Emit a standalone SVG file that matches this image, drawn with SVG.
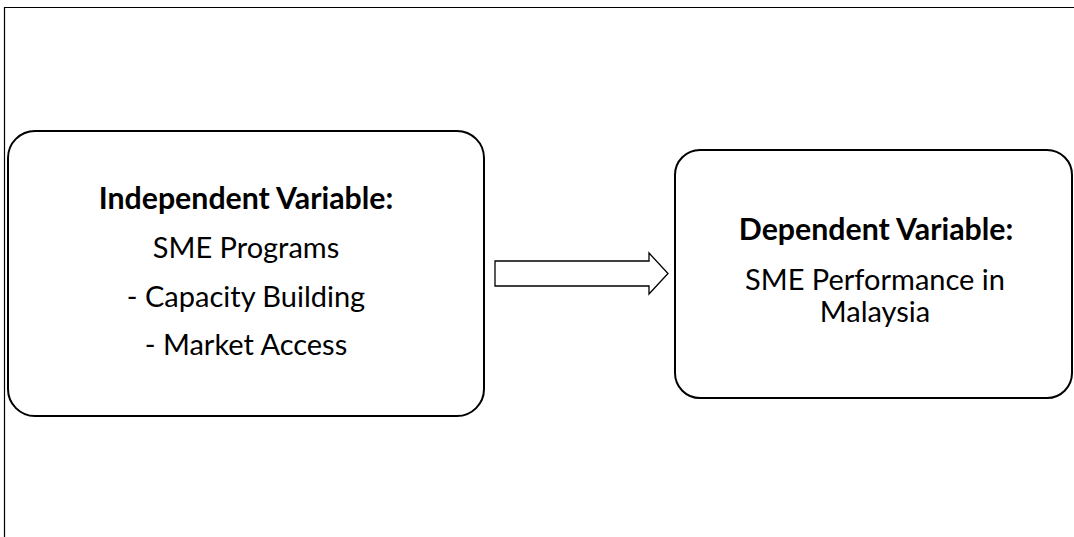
<svg xmlns="http://www.w3.org/2000/svg" width="1074" height="537" viewBox="0 0 1074 537">
<style>
.frame{fill:none;stroke:#000;stroke-width:1.2}
.box{fill:#fff;stroke:#000;stroke-width:2}
.t{font-family:Lato,"Liberation Sans",sans-serif;font-size:29px;fill:#000;text-anchor:middle}
.b{font-weight:bold;font-size:30.3px}
.arrow{fill:#fff;stroke:#000;stroke-width:1.3}
</style>
<rect width="1074" height="537" fill="#fff"/>
<path class="frame" d="M4.5,537 V7.5 H1074"/>
<g id="independent">
<rect class="box" x="8" y="131" width="476" height="285" rx="27" ry="27"/>
<text class="t b" x="246" y="209">Independent Variable:</text>
<text class="t" x="246" y="258">SME Programs</text>
<text class="t" x="246" y="307">- Capacity Building</text>
<text class="t" x="246" y="355">- Market Access</text>
</g>
<g id="dependent">
<rect class="box" x="675" y="150" width="397" height="248" rx="25" ry="25"/>
<text class="t b" x="876" y="240">Dependent Variable:</text>
<text class="t" x="875" y="290">SME Performance in</text>
<text class="t" x="875" y="322">Malaysia</text>
</g>
<g id="connectors">
<path class="arrow" d="M495,261 H649 V253 L668,273.5 L649,294 V286 H495 Z"/>
</g>
</svg>
